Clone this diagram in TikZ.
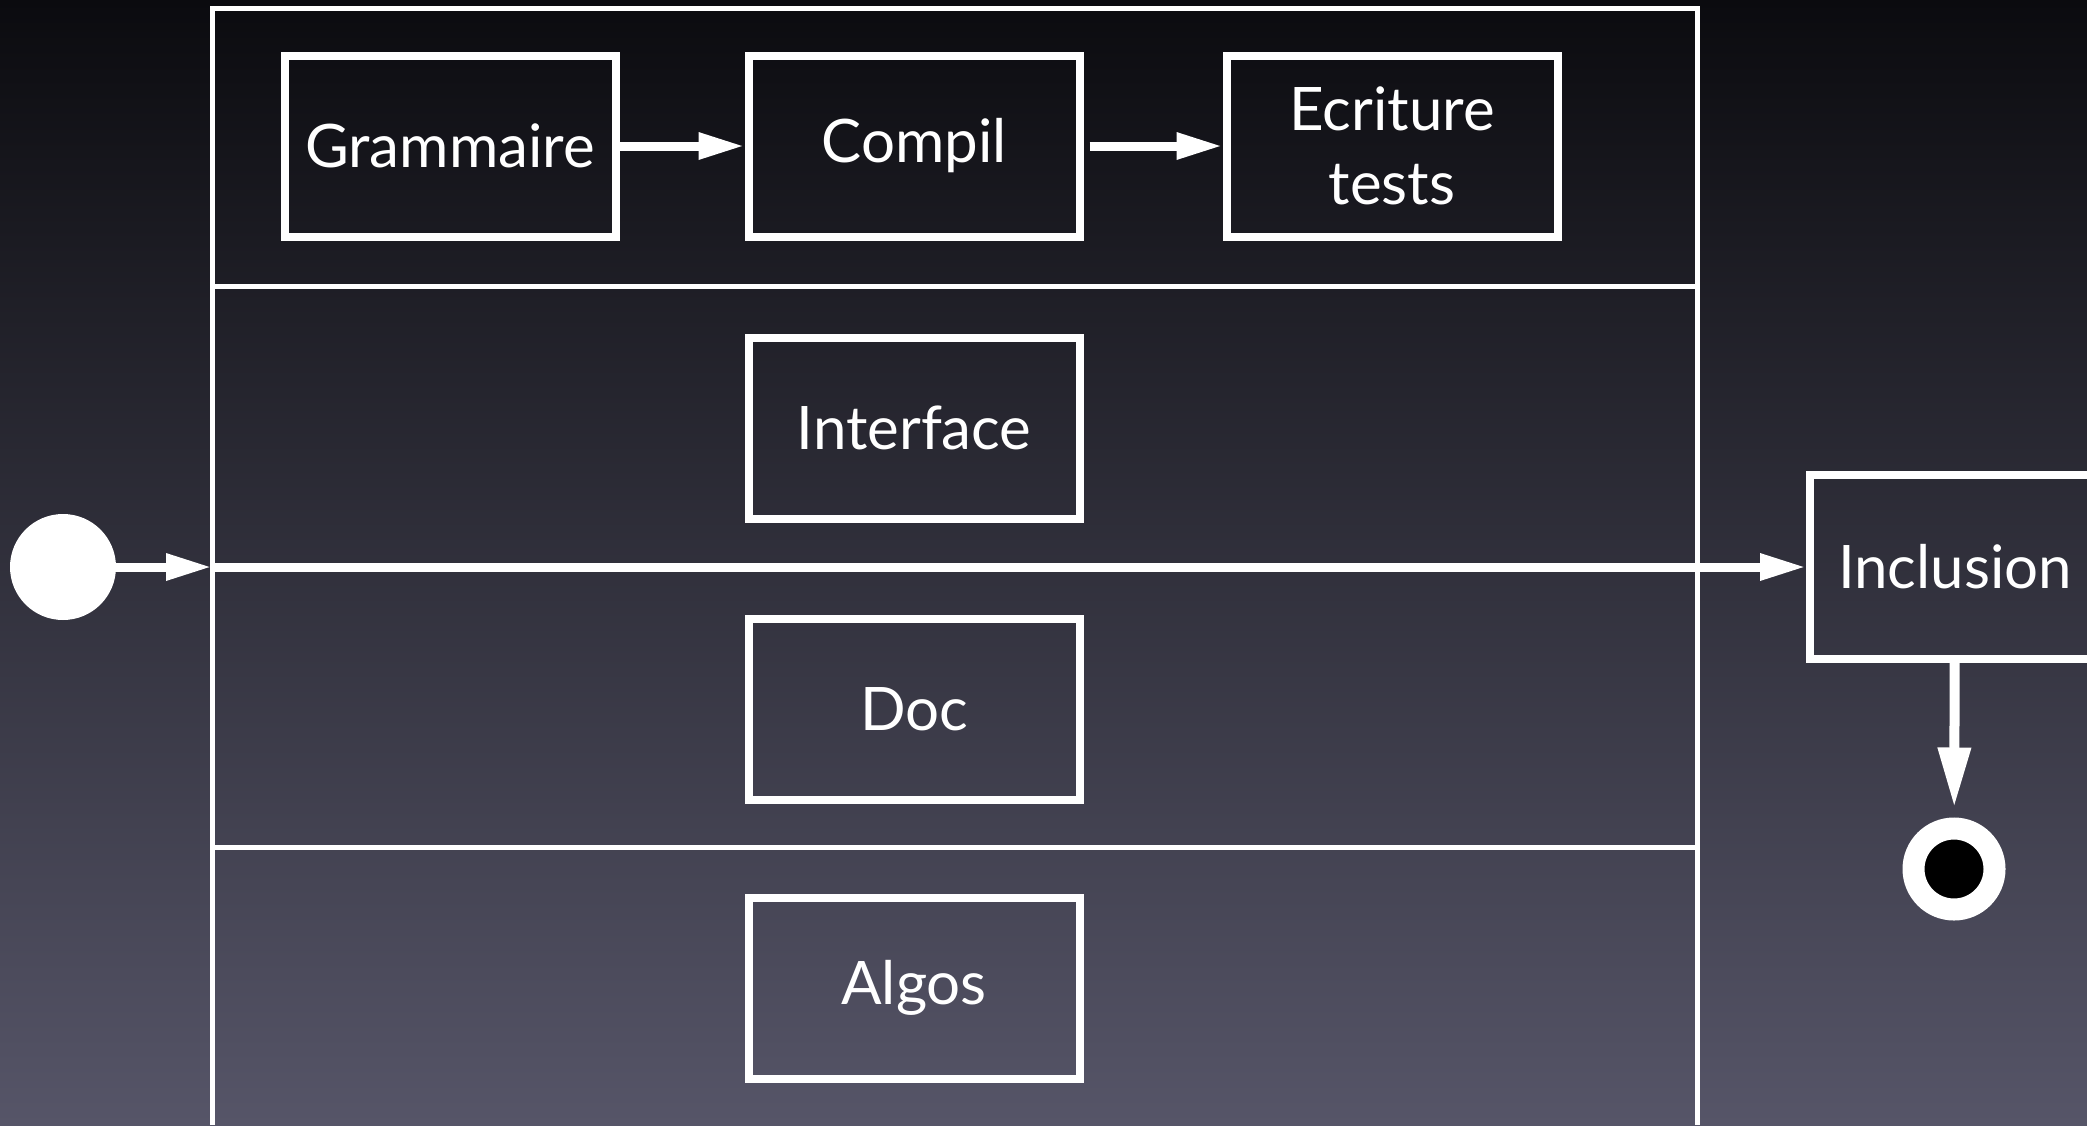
\documentclass[tikz,border=0pt]{standalone}
\usepackage{xcolor}
\usepackage{fontspec}
\setmainfont{Lato}
\usepackage{tikz}
\usetikzlibrary{arrows.meta}

\definecolor{bgtop}{RGB}{11,11,15}
\definecolor{bgmid}{RGB}{54,54,69}
\definecolor{bgbot}{RGB}{86,85,104}

\begin{document}
\begin{tikzpicture}[x=.5pt,y=-.5pt,
  actbox/.style={draw=white,line width=4pt,minimum width=165.5pt,minimum height=90.5pt,inner sep=0pt,text=white,align=center,font=\fontsize{30}{37}\selectfont},
  lane/.style={draw=white,line width=2.5pt},
  flow/.style={draw=white,line width=4.5pt,-{Triangle[length=23pt,width=12.5pt]}}]
\path[use as bounding box] (0,0) rectangle (2087,1125);
\shade[top color=bgtop,middle color=bgmid,bottom color=bgbot] (0,0) rectangle (2087,1125);
% swimlanes
\draw[lane] (212,1125) -- (212,8) -- (1697,8) -- (1697,1125);
\draw[lane] (212,286) -- (1697,286);
\draw[lane] (212,847) -- (1697,847);
\coordinate (laneW) at (212,567);
\coordinate (laneE) at (1697,567);
% activities
\node[actbox] (grammaire) at (450,146) {Grammaire};
\node[actbox] (compil) at (914,146) {Compil};
\node[actbox] (ecriture) at (1392,146) {Ecriture\\tests};
\node[actbox] (interface) at (914,428) {Interface};
\node[actbox] (doc) at (914,709) {Doc};
\node[actbox] (algos) at (914,988) {Algos};
\node[actbox,minimum width=145pt,minimum height=92pt] (inclusion) at (1955,567) {Inclusion};
% start / end
\node[circle,fill=white,minimum size=53pt,inner sep=0pt] (start) at (63,567) {};
\node[circle,fill=black,draw=white,line width=11pt,minimum size=40.5pt,inner sep=0pt] (final) at (1954,869) {};
% flows
\draw[flow] (grammaire) -- (compil);
\draw[flow,shorten <=3pt] (compil) -- (ecriture);
\draw[flow] (start) -- (laneW);
\draw[white,line width=4.5pt] (laneW) -- (laneE);
\draw[flow] (laneE) -- (inclusion);
\draw[flow,line width=5pt,-{Triangle[length=30pt,width=15.5pt]},shorten >=5pt] (inclusion) -- (final);
\end{tikzpicture}
\end{document}
